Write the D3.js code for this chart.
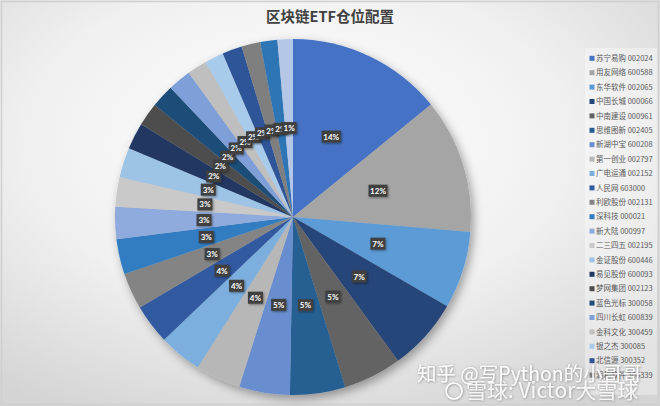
<!DOCTYPE html>
<html><head><meta charset="utf-8">
<script src="https://cdn.jsdelivr.net/npm/d3@7"></script>
<style>
html,body{margin:0;padding:0;background:#fff;}
svg{display:block;}
</style></head>
<body>
<svg id="chart" width="660" height="406"></svg>
<script>
const title = "区块链ETF仓位配置";
const categories = [
  "苏宁易购 002024","用友网络 600588","东华软件 002065","中国长城 000066","中南建设 000961",
  "思维图新 002405","新湖中宝 600208","第一创业 002797","广电运通 002152","人民网 603000",
  "利欧股份 002131","深科技 000021","新大陆 000997","二三四五 002195","金证股份 600446",
  "易见股份 600093","梦网集团 002123","蓝色光标 300058","四川长虹 600839","金科文化 300459",
  "银之杰 300085","北信源 300352","润和软件 300339","恒生电子 600570","远光软件 002063"
];
const values = [14.1,12.2,7.0,6.6,5.3,5.0,4.6,4.1,3.9,3.6,3.3,3.2,2.9,2.7,2.7,2.4,2.1,2.1,2.1,1.8,1.7,1.8,1.7,1.55,1.4];
const colors = [
  "#4472C4","#A5A5A5","#5B9BD5","#264478","#636363","#255E91","#698ED0","#B7B7B7","#7CAFDD","#335AA1",
  "#848484","#327DC2","#8FAADC","#C9C9C9","#9DC3E6","#203864","#4D4D4D","#1F4E79","#7F9FD9","#BFBFBF",
  "#A9CBEB","#2F5597","#7F7F7F","#2E75B6","#B4C7E7"
];
const watermark1 = "知乎 @写Python的小哥哥";
const watermark2 = "雪球: Victor大雪球";

const svg = d3.select("#chart");
const W = 660, H = 406;
const defs = svg.append("defs");
const bg = defs.append("radialGradient").attr("id","bg").attr("cx","45%").attr("cy","35%").attr("r","75%");
bg.append("stop").attr("offset","0%").attr("stop-color","#ffffff");
bg.append("stop").attr("offset","55%").attr("stop-color","#f0f0f0");
bg.append("stop").attr("offset","100%").attr("stop-color","#d4d4d4");
const sh = defs.append("filter").attr("id","sh").attr("x","-20%").attr("y","-20%").attr("width","140%").attr("height","140%");
sh.append("feDropShadow").attr("dx",3).attr("dy",4).attr("stdDeviation",5).attr("flood-color","#000").attr("flood-opacity",0.35);
const lsh = defs.append("filter").attr("id","lsh").attr("x","-30%").attr("y","-30%").attr("width","160%").attr("height","160%");
lsh.append("feDropShadow").attr("dx",1).attr("dy",1).attr("stdDeviation",1).attr("flood-color","#000").attr("flood-opacity",0.4);
const wsh = defs.append("filter").attr("id","wsh").attr("x","-10%").attr("y","-30%").attr("width","120%").attr("height","160%");
wsh.append("feDropShadow").attr("dx",0.5).attr("dy",0.5).attr("stdDeviation",0.8).attr("flood-color","#555").attr("flood-opacity",0.7);

svg.append("rect").attr("width",W).attr("height",H).attr("fill","url(#bg)");
svg.append("rect").attr("x",1.5).attr("y",1.5).attr("width",W-3).attr("height",H-3).attr("fill","none").attr("stroke","#cfcfcf").attr("stroke-width",1.5);

svg.append("text").attr("x",330).attr("y",22).attr("text-anchor","middle")
  .attr("font-family","'Noto Sans CJK SC', sans-serif").attr("font-weight","bold").attr("font-size",14.5)
  .attr("fill","#404040").text(title);

const cx = 293, cy = 217, R = 178;
const total = d3.sum(values);
const pie = d3.pie().sort(null).value(d => d.v);
const data = categories.map((c,i)=>({c, v: values[i], col: colors[i]}));
const arcs = pie(data);
const arc = d3.arc().innerRadius(0).outerRadius(R);

const g = svg.append("g").attr("transform",`translate(${cx},${cy})`);
g.append("g").attr("filter","url(#sh)").selectAll("path").data(arcs).join("path")
  .attr("d",arc).attr("fill",d=>d.data.col).attr("stroke","none");

const lg = g.append("g");
arcs.forEach(d=>{
  const [x,y] = arc.centroid(d);
  const pct = Math.round(d.data.v/total*100) + "%";
  const w = pct.length>2 ? 19 : 15;
  const gg = lg.append("g").attr("transform",`translate(${x},${y})`);
  gg.append("rect").attr("x",-w/2).attr("y",-6).attr("width",w).attr("height",12)
    .attr("fill","#404040").attr("filter","url(#lsh)");
  gg.append("text").attr("text-anchor","middle").attr("y",3).attr("fill","#fff")
    .attr("font-family","Lato, 'Open Sans', sans-serif").attr("font-weight","bold").attr("font-size",8)
    .text(pct);
});

// legend
svg.append("rect").attr("x",585).attr("y",48).attr("width",72).attr("height",347).attr("fill","#ffffff").attr("opacity",0.35);
const legY0 = 58.3, legStep = 14.4, legBottom = 385;
const leg = svg.append("g");
data.forEach((d,i)=>{
  const y = legY0 + i*legStep;
  if (y > legBottom) return;
  leg.append("rect").attr("x",589.5).attr("y",y-2.5).attr("width",5).attr("height",5).attr("fill",d.col);
  leg.append("text").attr("x",596).attr("y",y+2.7).attr("fill","#595959")
    .attr("font-family","'Noto Sans CJK SC', sans-serif").attr("font-size",7.5).text(d.c);
});

// watermarks
const wm = svg.append("g").attr("filter","url(#wsh)").attr("fill","#ffffff").attr("font-family","'Noto Sans CJK SC', sans-serif");
wm.append("text").attr("x",417).attr("y",381).attr("font-size",19.5).attr("opacity",0.95).text(watermark1);
wm.append("circle").attr("cx",454).attr("cy",391).attr("r",8).attr("fill","none").attr("stroke","#fff").attr("stroke-width",1.6);
wm.append("text").attr("x",466).attr("y",398).attr("font-size",21).attr("opacity",0.85).text(watermark2);
</script>
</body></html>
